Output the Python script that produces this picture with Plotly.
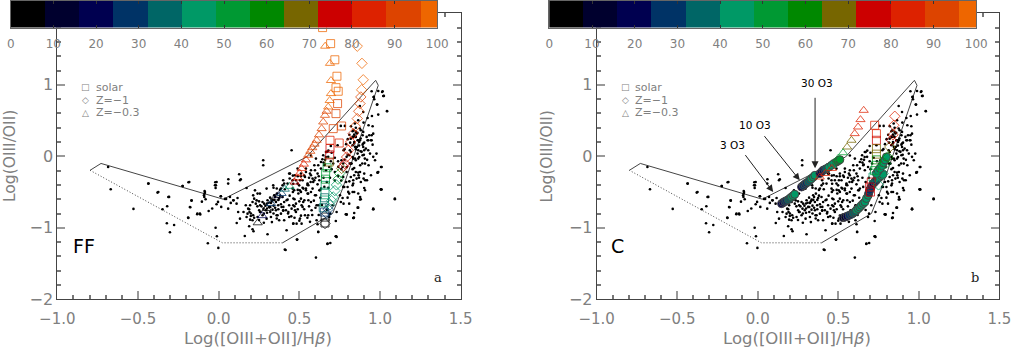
"""Two emission line diagnostic panels, FF and C, with shared observed points."""

import numpy as np
import plotly.graph_objects as go

W, H = 1011, 348

# observed galaxies, same in both panels
obs_x = [
    -.685, -.669, -.435, -.379, -.528, -.307, -.224, -.187, -.168, -.176, -.104, -.087, -.087, -.089, -.081, -.319,
    -.348, -.189, -.133, -.114, -.062, -.04, -.021, -.023, -.019, .014, .039, -.004, -.013, .016, -.321, -.276,
    -.302, -.019, -.011, -.067, -.002, .127, .137, .059, .013, .046, .075, .092, .117, .059, .121, .154,
    .179, .112, .189, .191, .199, .21, .195, .189, .21, .216, .162, .303, .41, .485, .617, .613,
    .692, .251, .257, .272, .282, .303, .319, .334, .324, .344, .361, .375, .396, .355, .369, .386,
    .406, .427, .313, .292, .278, .334, .355, .365, .386, .417, .437, .452, .479, .51, .531, .551,
    .572, .541, .499, .458, .427, .396, .479, .51, .541, .572, .593, .613, .634, .603, .572, .52,
    .479, .437, .406, .375, .324, .272, .241, .23, .22, .241, .21, .195, .168, 1.005, 1.092, .958,
    .865, .793, .834, .727, .675, .603, .415, .487, .948, .989, 1.016, 1.02, .981, .96, .964, 1.043,
    .875, .896, .95, .989, .923, .929, .954, .898, .881, .892, .933, .958, .757, .782, .836, .85,
    .84, .83, .819, .85, .861, .815, .84, .871, .83, .857, .892, .902, .912, .944, .954, .923,
    .737, .695, .67, .664, .643, .695, .658, .685, .65, .861, .892, .871, .85, .83, .809, .877,
    .84, .819, .794, .902, .929, 1.006, .985, .774, .761, .768, .865, .902, .944, .985, 1.006, .958,
    .902, .877, .881, .861, .84, .836, .788, .726, .726, .674, .809, .774, .757, .799, .768, .809,
    .84, .799, .778, .83, .834, .881, .908, .919, .867, .84, .819, .898, .705, .691, .685, .452,
    .276, .276, .665, .603, .634, .572, .541, .489, .51, .572, .613, .665, .593, .634, .655, .624,
    .582, .551, .52, .489, .458, .437, .406, .386, .468, .51, .541, .582, .624, .655, .442, .473,
    .504, .535, .566, .597, .617, .586, .556, .525, .494, .463, .421, .401, .432, .473, .514, .556,
    .597, .628, .617, .576, .535, .504, .463, .566, .607, .617, .421, .731, .772, .793, .824, .845,
    .865, .876, .845, .896, .927, .948, .938, .969, .907, .876, .855, .834, .803, .772, .752, .865,
    .907, .876, .989, 1.01, 1.01, .958, 1.092, .838, .793, .731, 1.013, 1.024, 1.044, .962, .983, .844,
    .865, .875, .896, .855, .834, .865, .896, .917, .948, .927, .886, .845, .813, .793, .834, .865,
    .906, .958, .978, .813, .772, .741, .71, .679, .648, .214, .235, .256, .183, .132, .173, .214,
    .256, .07, .111, .091, -.013, -.017, -.085, -.091, -.168, -.178, -.116, -.132, -.188, -.312, -.374, -.436,
    -.223, -.182, .06, .132, .173, .225, .297, .338, .4, .462, .503, .555, .524, .462, .4, .359,
    .297, .462, .483, .514, .555, .607,
    .265, .29, .30, .31, .33, .345, .35, .37, .38, .30, .32, .34, .35, .37, .39, .40, .25, .24, .26, .28,
    .30, .32, .34, .36, .33, .28, .25, .22, .20, .43, .45, .47, .49, .50, .47, .44, .46, .49, .52, .55,
    .57, .60, .62, .56, .53, .49, .46, .44, .41, .38, .36, .34,
    .82, .83, .81, .80, .79, .78, .82, .85, .87, .88, .86, .85, .84, .80, .78, .76, .74, .72, .70, .68,
    .66, .70, .72, .74, .76, .72, .69, .67, .68, .65, .83, .85, .87, .81, .83, .79, .88, .90, .92, .89,
    .59, .63, .64, .60, .56, .53, .55, .58, .62, .67, .51, .50, .47,
]
obs_y = [
    -.149, -.461, -.382, -.508, -.736, -.568, -.415, -.363, -.62, -.713, -.634, -.485, -.522, -.568, -.601, -.699,
    -.741, -.857, -.811, -.815, -.764, -.731, -.363, -.405, -.443, -.559, -.596, -.638, -.671, -.708, -.937, -.96,
    -1.062, -1.0, -1.118, -1.216, -1.281, -.252, -.322, -.382, -.559, -.597, -.652, -.615, -.583, -.732, -.778, -.778,
    -.802, -.932, -.741, -.778, -.834, -.895, -.886, -.979, -1.02, -1.049, -1.114, -1.09, -1.305, -1.165, -1.058, -.951,
    -1.212, -.755, -.685, -.639, -.662, -.615, -.578, -.606, -.652, -.545, -.522, -.583, -.569, -.639, -.685, -.671,
    -.639, -.606, -.708, -.755, -.732, -.746, -.755, -.825, -.802, -.755, -.685, -.732, -.662, -.592, -.615, -.522,
    -.499, -.452, -.406, -.452, -.382, -.406, -.336, -.28, -.219, -.266, -.336, -.392, -.452, -.545, -.639, -.708,
    -.778, -.848, -.895, -.895, -.848, -.825, -.848, -.662, -.592, -.522, -.639, -.685, -.685, -.462, -.601, -.732,
    -.718, -.816, -.862, -1.119, -1.221, -1.417, -1.31, -1.165, .909, .914, .909, .844, .723, .83, .797, .634,
    .704, .62, .564, .583, .536, .434, .42, .471, .364, .294, .294, .317, .425, .425, .364, .341,
    .303, .271, .247, .271, .224, .191, .201, .201, .154, .131, .163, .191, .108, .224, .163, .224,
    .154, .145, .061, -.009, -.041, -.07, -.116, -.149, -.088, .038, .014, -.009, -.056, -.009, .014, -.125,
    -.163, -.102, -.149, .084, -.125, -.149, -.228, .084, -.056, -.149, -.228, -.242, -.266, -.229, -.462, -.741,
    -.443, -.569, -.601, -.718, -.792, -.862, -.811, -.904, -1.119, -1.226, -.662, -.662, -.639, -.578, -.583, -.522,
    -.499, -.429, -.429, -.406, -.336, -.359, -.336, -.336, -.266, -.266, -.289, -.312, -.685, -.802, -.848, .084,
    -.056, -.126, .061, -.032, -.079, .011, -.172, -.172, -.242, -.195, -.242, -.195, -.126, -.172, -.126, -.335,
    -.312, -.382, -.335, -.382, -.335, -.242, -.382, -.452, -.475, -.498, -.475, -.452, -.475, -.428, -.242, -.265,
    -.335, -.288, -.242, -.195, -.125, -.358, -.405, -.452, -.521, -.591, -.615, -.708, -.778, -.754, -.684, -.615,
    -.545, -.475, -.684, -.754, -.824, -.871, -.941, -.917, -.894, -1.057, -1.034, -1.127, -.288, -.219, -.102, -.032,
    .084, .224, .271, .131, .224, .294, .038, -.055, -.102, -.219, -.312, -.382, -.498, -.428, -.545, -.521,
    -.475, -.605, -.219, -.149, -.465, -.74, -.591, -.857, -.81, -.778, .9, .845, .63, .831, .723, .458,
    .504, .388, .341, .318, .271, .225, .178, .271, .225, .085, .062, .132, .085, -.008, -.032, -.032,
    -.032, -.008, .038, -.101, -.101, -.148, -.101, -.008, .015, -.546, -.616, -.522, -.732, -.872, -.849, -.825,
    -.779, -.569, -.662, -.616, -.359, -.406, -.499, -.546, -.616, -.709, -.802, -.802, -.862, -.569, -.499, -.382,
    -.415, -.359, -.322, -.336, -.443, -.476, -.452, -.406, -.336, -.383, -.476, -.522, -.639, -.685, -.755, -.825,
    -.872, -.942, -.942, -.942, -.825, -.685,
    -.70, -.69, -.66, -.65, -.63, -.61, -.57, -.61, -.55, -.73, -.71, -.69, -.72, -.74, -.71, -.76, -.63, -.70, -.78, -.80,
    -.79, -.78, -.80, -.87, -.92, -.93, -.89, -.86, -.80, -.80, -.84, -.70, -.74, -.63, -.60, -.55, -.50, -.47, -.44, -.40,
    -.36, -.30, -.28, -.30, -.27, -.28, -.27, -.31, -.46, -.47, -.45, -.44,
    .42, .35, .30, .24, .17, .10, .06, .10, .15, .25, .33, .40, .18, .02, -.05, -.18, -.07, -.02, .05, .08,
    -.05, -.18, -.22, -.28, -.34, -.34, -.30, -.36, -.44, -.30, -.18, -.22, -.30, -.35, -.50, -.36, .07, .02, -.05, -.10,
    -.62, -.58, -.68, -.72, -.70, -.74, -.86, -.82, -.82, -.75, -.83, -.90, -.86,
]

# grid outline, solid part then dotted part
box_x = [-.797, -.729, .028, .545, .973, .989, .768, .706, .396]
box_y = [-.196, -.10, -.60, -.01, 1.063, .993, -.452, -.80, -1.21]
box_dot_x = [.396, .023, -.797]
box_dot_y = [-1.21, -1.21, -.196]

# panel a tracks
ff_sq_x = [.659, .66, .655, .648, .655, .657, .659, .66, .662, .663, .672, .685, .688, .69, .69, .71, .747,
           .727, .762, .737, .741, .727, .733, .72, .694, .644]
ff_sq_y = [-.933, -.85, -.78, -.72, -.65, -.58, -.5, -.406, -.32, -.242, -.16, -.08, .02, .11, .224, .387, .186,
           .597, .424, .737, .91, .96, 1.12, 1.35, 1.576, 1.8]
ff_sq_c = [2, 6, 24, 34, 42, 36, 44, 46, 48, 52, 54, 68, 76, 78, 82, 88, 86, 92, 88, 94, 96, 97, 97, 98, 98, 98]

ff_di_x = [.659, .669, .679, .69, .70, .71, .72, .73, .74, .75, .762, .772, .782, .793, .803, .818, .834, .847,
           .859, .868, .876, .881, .886, .896, .888, .859]
ff_di_y = [-.94, -.8, -.74, -.68, -.62, -.57, -.48, -.4, -.32, -.24, -.17, -.14, -.102, -.01, .084, .2, .317, .42,
           .527, .63, .737, .83, .93, 1.07, 1.30, 1.54]
ff_di_c = [4, 24, 30, 34, 40, 44, 44, 46, 48, 52, 68, 76, 78, 80, 82, 84, 86, 88, 90, 91, 92, 94, 96, 97, 98, 98]

ff_tr_x = [.242, .27, .297, .325, .349, .37, .39, .41, .44, .47, .49, .502, .514, .528, .541, .555, .568, .58, .594,
           .607, .622, .638, .648, .659, .669, .679, .688, .696, .696, .69, .66]
ff_tr_y = [-.93, -.83, -.73, -.66, -.583, -.55, -.52, -.46, -.42, -.36, -.3, -.236, -.172, -.11, -.05, .014, .07, .12,
           .17, .224, .30, .387, .48, .573, .63, .69, .78, .877, 1.06, 1.30, 1.54]
ff_tr_c = [2, 22, 4, 26, 4, 8, 30, 35, 44, 76, 82, 84, 84, 86, 86, 88, 88, 90, 90, 90, 92, 92, 93, 94, 95, 96, 96, 97,
           97, 98, 98]

# panel b tracks
c_sq_x = [.726, .737, .737, .737, .737, .737, .733, .725, .716, .705, .695, .70]
c_sq_y = [.434, .317, .224, .107, .03, -.05, -.126, -.2, -.29, -.36, -.43, -.5]
c_sq_c = [86, 84, 78, 68, 68, 62, 52, 48, 46, 78, 78, 78]

c_di_x = [.851, .845, .84, .83, .82, .808, .795, .778, .75]
c_di_y = [.56, .434, .3, .224, .13, -.01, -.1, -.242, -.4]
c_di_c = [84, 86, 82, 72, 68, 60, 52, 46, 44]

c_tr_x = [.658, .638, .623, .602, .582, .555, .53, .499, .458, .46, .42, .385]
c_tr_y = [.643, .513, .41, .317, .224, .13, .05, -.03, -.126, -.17, -.24, -.29]
c_tr_c = [84, 84, 82, 80, 68, 66, 54, 50, 46, 82, 80, 80]

# dense ends of the panel b tracks, they read as solid bands
c_band_x = [.148, .158, .168, .178, .189, .2, .21, .22, .23,
            .272, .282, .292, .302, .313, .323, .334, .345, .355,
            .386, .396, .406, .416, .427, .442, .458, .473, .489, .5, .51,
            .53, .542, .555, .568, .582, .592, .603, .613, .624, .634, .644, .655, .665, .675, .686, .69, .695, .705,
            .716, .726, .736, .746, .757, .767, .778, .737, .748, .76, .77, .78, .79, .799]
c_band_y = [-.662, -.645, -.632, -.62, -.606, -.588, -.569, -.55, -.531,
            -.429, -.41, -.392, -.375, -.359, -.335, -.312, -.29, -.266,
            -.242, -.22, -.196, -.185, -.172, -.15, -.126, -.1, -.079, -.063, -.047,
            -.858, -.85, -.839, -.825, -.811, -.795, -.778, -.755, -.732, -.71, -.685, -.66, -.639, -.59, -.545, -.51, -.476, -.43,
            -.382, -.36, -.336, -.31, -.289, -.27, -.252, -.242, -.2, -.17, -.13, -.09, -.05, -.009]
c_band_c = [18, 20, 26, 28, 32, 36, 40, 42, 44,
            22, 24, 28, 30, 34, 38, 42, 44, 46,
            16, 18, 20, 28, 34, 40, 44, 46, 48, 50, 50,
            10, 14, 22, 26, 30, 34, 36, 40, 42, 44, 44, 46, 46, 44, 46, 28, 26, 24,
            22, 26, 30, 36, 40, 42, 44, 44, 46, 46, 44, 44, 42, 42]

# colour bar
cbar_edges = [0, 8, 16, 24, 32, 40, 48, 56, 64, 72, 80, 88, 96, 100]
cbar_colors = ["#000000", "#00002e", "#000050", "#003366", "#006666", "#009966", "#009933", "#008800",
               "#776600", "#cc0000", "#dd2200", "#dd4400", "#ee6600"]
cbar_ticks = [0, 10, 20, 30, 40, 50, 60, 70, 80, 90, 100]

GRAY = "#808080"
FRAME = "#444444"
FONT = "DejaVu Sans"


def build_scale():
    scale = []
    for i, col in enumerate(cbar_colors):
        scale.append([cbar_edges[i] / 100, col])
        scale.append([cbar_edges[i + 1] / 100, col])
    return scale


def track(x, y, c, symbol, xa, ya, size=8, opacity=0.75):
    return go.Scatter(
        x=x, y=y, mode="markers", xaxis=xa, yaxis=ya, showlegend=False,
        marker=dict(symbol=symbol, size=size, color=c, cmin=0, cmax=100, colorscale=build_scale(),
                    opacity=opacity, line=dict(width=1)),
    )


def main_axes(dom, anchor):
    xa = dict(
        domain=[dom[0] / W, dom[1] / W], range=[-1.0, 1.5], anchor=anchor, tickvals=[-1, -.5, 0, .5, 1, 1.5],
        tickformat=".1f", ticks="inside", ticklen=8, tickcolor="#999999", tickwidth=1.5, mirror="allticks",
        showline=True, linecolor=FRAME, showgrid=False, zeroline=False, automargin=False,
        ticklabeloverflow="allow", ticklabelstandoff=6,
        tickfont=dict(family=FONT, size=15, color=GRAY),
        minor=dict(dtick=0.1, tick0=0, ticks="inside", ticklen=4, tickcolor="#777777", showgrid=False),
    )
    ya = dict(
        domain=[1 - 299.3 / H, 1 - 13.3 / H], range=[-2, 2], anchor=anchor.replace("y", "x"), tickvals=[-2, -1, 0, 1],
        ticks="inside", ticklen=8, tickcolor="#999999", tickwidth=1.5, mirror="allticks",
        showline=True, linecolor=FRAME, showgrid=False, zeroline=False, automargin=False,
        tickfont=dict(family=FONT, size=16, color=GRAY),
        minor=dict(dtick=0.2, tick0=0, ticks="inside", ticklen=4, tickcolor="#777777", showgrid=False),
    )
    return xa, ya


def cbar_axes(dom, anchor):
    xa = dict(
        domain=[dom[0] / W, dom[1] / W], range=[0, 100], anchor=anchor, tickvals=cbar_ticks, automargin=False,
        ticks="inside", ticklen=3, tickcolor="#333333", mirror="allticks", showline=True, linecolor="#666666",
        showgrid=False, zeroline=False, ticklabelstandoff=5, ticklabeloverflow="allow",
        tickfont=dict(family=FONT, size=12, color=GRAY),
    )
    ya = dict(
        domain=[1 - 27.5 / H, 1 - 1 / H], range=[0, 1], anchor=anchor.replace("y", "x"), showticklabels=False,
        ticks="", showline=True, linecolor="#666666", mirror=True, showgrid=False, zeroline=False, automargin=False,
    )
    return xa, ya


fig = go.Figure()

for xa, ya in (("x", "y"), ("x2", "y2")):
    fig.add_trace(go.Scatter(x=box_x, y=box_y, mode="lines", xaxis=xa, yaxis=ya, showlegend=False,
                             line=dict(color=FRAME, width=1)))
    fig.add_trace(go.Scatter(x=box_dot_x, y=box_dot_y, mode="lines", xaxis=xa, yaxis=ya, showlegend=False,
                             line=dict(color=FRAME, width=1, dash="1px,2px")))
    fig.add_trace(go.Scatter(x=obs_x, y=obs_y, mode="markers", xaxis=xa, yaxis=ya, showlegend=False,
                             marker=dict(color="black", size=2.6)))

fig.add_trace(track(c_band_x, c_band_y, c_band_c, "circle", "x2", "y2", size=8, opacity=1))
fig.add_trace(track(ff_sq_x, ff_sq_y, ff_sq_c, "square-open", "x", "y"))
fig.add_trace(track(ff_di_x, ff_di_y, ff_di_c, "diamond-open", "x", "y"))
fig.add_trace(track(ff_tr_x, ff_tr_y, ff_tr_c, "triangle-up-open", "x", "y"))
fig.add_trace(track(c_sq_x, c_sq_y, c_sq_c, "square-open", "x2", "y2"))
fig.add_trace(track(c_di_x, c_di_y, c_di_c, "diamond-open", "x2", "y2"))
fig.add_trace(track(c_tr_x, c_tr_y, c_tr_c, "triangle-up-open", "x2", "y2"))

# colour bars on top of the frames
cbar_mid = [(a + b) / 2 for a, b in zip(cbar_edges[:-1], cbar_edges[1:])]
cbar_wid = list(np.diff(cbar_edges))
for xa, ya in (("x3", "y3"), ("x4", "y4")):
    fig.add_trace(go.Bar(x=cbar_mid, y=[1] * len(cbar_mid), width=cbar_wid, xaxis=xa, yaxis=ya, showlegend=False,
                         marker=dict(color=cbar_colors, line=dict(width=0))))


def label(px, py, text, size=11, color=GRAY, family=FONT, angle=0, xanchor="center"):
    return dict(x=px / W, y=1 - py / H, xref="paper", yref="paper", text=text, showarrow=False, textangle=angle,
                xanchor=xanchor, yanchor="middle", font=dict(family=family, size=size, color=color))


def arrow(x0, y0, x1, y1):
    return dict(x=x1, y=y1, ax=x0, ay=y0, xref="x2", yref="y2", axref="x2", ayref="y2", text="", showarrow=True,
                arrowhead=2, arrowsize=1.4, arrowwidth=1, arrowcolor="#222222")


annotations = []
for off, letter, tag, letter_px, tag_px in ((0, "FF", "a", 84, 438), (539.4, "C", "b", 78, 436)):
    annotations += [
        label(258 + off, 338, "Log([OIII+OII]/H<i>β</i>)", size=16.5),
        label(10 + off - (2 if off else 0), 156, "Log(OIII/OII)", size=15.5, angle=-90),
        label(94 + off, 87, "solar", xanchor="left"),
        label(94 + off, 100, "Z=−1", xanchor="left"),
        label(94 + off, 113, "Z=−0.3", xanchor="left"),
        label(85.7 + off, 87, "□", size=9),
        label(85.7 + off, 100, "◇", size=9),
        label(85.7 + off, 113, "△", size=9),
        label(letter_px + off, 246, letter, size=19, color="black"),
        label(tag_px + off, 277, tag, size=13, color="#222222", family="DejaVu Serif"),
    ]

annotations += [
    arrow(.356, .839, .356, -.168),
    arrow(.034, .303, .261, -.336),
    arrow(-.084, .038, .096, -.5),
    dict(x=.365, y=1.02, xref="x2", yref="y2", text="30 O3", showarrow=False, font=dict(family=FONT, size=10.5, color="black")),
    dict(x=-.018, y=.434, xref="x2", yref="y2", text="10 O3", showarrow=False, font=dict(family=FONT, size=10.5, color="black")),
    dict(x=-.156, y=.154, xref="x2", yref="y2", text="3 O3", showarrow=False, font=dict(family=FONT, size=10.5, color="black")),
]

xa1, ya1 = main_axes((57.3, 460.7), "y")
xa2, ya2 = main_axes((596.7, 999.3), "y2")
xa3, ya3 = cbar_axes((10.7, 437.3), "y3")
xa4, ya4 = cbar_axes((549.3, 976.3), "y4")

fig.update_layout(
    width=W, height=H, margin=dict(l=0, r=0, t=0, b=0), paper_bgcolor="white", plot_bgcolor="white",
    bargap=0, showlegend=False, annotations=annotations,
    xaxis=xa1, yaxis=ya1, xaxis2=xa2, yaxis2=ya2, xaxis3=xa3, yaxis3=ya3, xaxis4=xa4, yaxis4=ya4,
)

fig.write_html("out.html", post_script="document.body.style.margin='0';", config=dict(displayModeBar=False))
